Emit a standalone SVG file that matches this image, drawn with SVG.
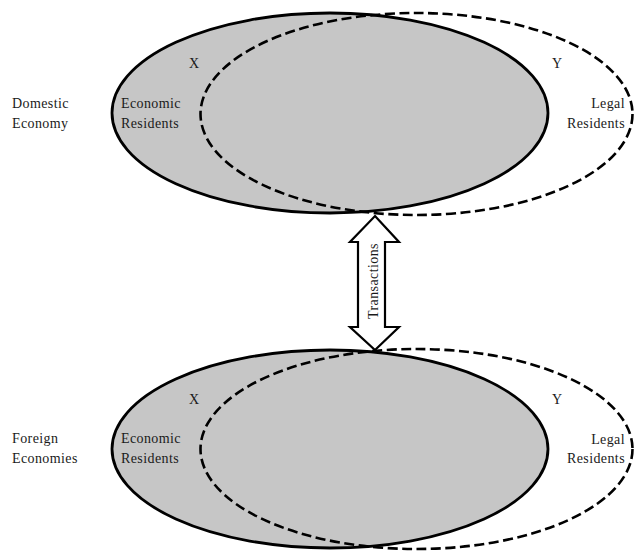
<svg xmlns="http://www.w3.org/2000/svg" width="635" height="551" viewBox="0 0 635 551">
<style>
text{font-family:"Liberation Serif","Times New Roman",serif;font-size:14px;fill:#1a1a1a;letter-spacing:0.4px}
.r{text-anchor:end}
.solid{fill:#c6c6c6;stroke:#000;stroke-width:2.8}
.dash{fill:none;stroke:#000;stroke-width:2.6;stroke-dasharray:10 4.5}
.arrow{fill:#fff;stroke:#000;stroke-width:2.2;stroke-linejoin:miter}
</style>
<rect width="635" height="551" fill="#fff"/>
<g id="domestic">
<ellipse class="solid" cx="330" cy="113" rx="218" ry="100"/>
<ellipse class="dash" cx="416.5" cy="114" rx="216" ry="101"/>
<text x="12" y="108">Domestic</text>
<text x="12" y="128">Economy</text>
<text x="121" y="108">Economic</text>
<text x="121" y="128">Residents</text>
<text x="189" y="68">X</text>
<text x="552" y="68">Y</text>
<text class="r" x="625" y="108">Legal</text>
<text class="r" x="625" y="128">Residents</text>
</g>
<g id="foreign">
<ellipse class="solid" cx="330" cy="449" rx="218" ry="99"/>
<ellipse class="dash" cx="416.5" cy="449" rx="216" ry="100"/>
<text x="12" y="443">Foreign</text>
<text x="12" y="463">Economies</text>
<text x="121" y="443">Economic</text>
<text x="121" y="463">Residents</text>
<text x="189" y="404">X</text>
<text x="552" y="404">Y</text>
<text class="r" x="625" y="444">Legal</text>
<text class="r" x="625" y="463">Residents</text>
</g>
<g id="connectors">
<path class="arrow" d="M375 216 L399 242 L385 242 L385 327 L399 327 L375 350 L350 327 L358 327 L358 242 L350 242 Z"/>
<text transform="translate(378 281) rotate(-90)" text-anchor="middle">Transactions</text>
</g>
</svg>
